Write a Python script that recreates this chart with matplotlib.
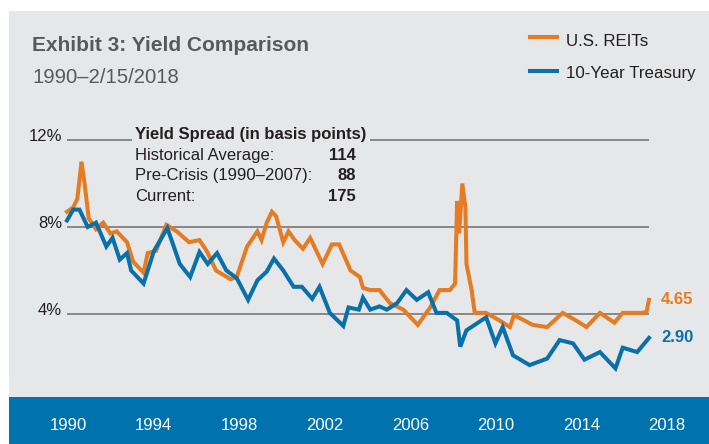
import matplotlib
matplotlib.use("Agg")
import matplotlib.pyplot as plt
from matplotlib.patches import Rectangle
from matplotlib.lines import Line2D
from matplotlib.transforms import offset_copy

# ---- data ----
reit_t = [1990.0, 1990.3, 1990.5, 1990.7, 1990.85, 1991.05, 1991.4, 1991.75, 1992.1, 1992.4,
          1992.9, 1993.2, 1993.7, 1993.9, 1994.3, 1994.8, 1995.3, 1995.9, 1996.4, 1996.75,
          1997.2, 1997.9, 1998.2, 1998.7, 1999.2, 1999.4, 1999.65, 1999.9, 2000.1, 2000.45,
          2000.7, 2001.0, 2001.4, 2001.75, 2002.35, 2002.8, 2003.15, 2003.7, 2004.15, 2004.3,
          2004.65, 2005.1, 2005.6, 2006.25, 2006.95, 2007.55, 2008.0, 2008.5, 2008.75, 2008.85,
          2008.95, 2009.1, 2009.25, 2009.3, 2009.55, 2009.7, 2010.25, 2010.9, 2011.4, 2011.6,
          2012.5, 2013.2, 2013.95, 2014.6, 2015.1, 2015.75, 2016.45, 2016.85, 2017.8, 2018.0,
          2018.12]
reit_y = [8.7, 8.9, 9.3, 11.0, 10.0, 8.4, 7.9, 8.2, 7.7, 7.8,
          7.3, 6.4, 5.9, 6.8, 6.9, 8.1, 7.8, 7.3, 7.4, 6.9,
          6.0, 5.6, 5.7, 7.1, 7.8, 7.4, 8.2, 8.7, 8.5, 7.3,
          7.8, 7.4, 7.0, 7.5, 6.3, 7.2, 7.2, 6.0, 5.7, 5.2,
          5.1, 5.1, 4.5, 4.2, 3.5, 4.3, 5.1, 5.1, 5.4, 9.2,
          7.7, 10.0, 8.9, 6.3, 5.1, 4.05, 4.05, 3.7, 3.4, 3.95,
          3.5, 3.4, 4.05, 3.7, 3.4, 4.05, 3.6, 4.05, 4.05, 4.1,
          4.65]

tsy_t = [1990.0, 1990.3, 1990.6, 1990.8, 1991.0, 1991.4, 1991.9, 1992.2, 1992.55, 1992.9,
         1993.1, 1993.7, 1994.2, 1994.85, 1995.45, 1995.95, 1996.4, 1996.8, 1997.25, 1997.7,
         1998.2, 1998.75, 1999.2, 1999.65, 2000.0, 2000.45, 2000.95, 2001.35, 2001.85, 2002.2,
         2002.7, 2003.35, 2003.6, 2004.1, 2004.3, 2004.65, 2005.1, 2005.45, 2005.95, 2006.4,
         2006.9, 2007.45, 2007.85, 2008.35, 2008.85, 2009.0, 2009.3, 2009.7, 2010.25, 2010.7,
         2011.05, 2011.55, 2012.35, 2013.2, 2013.8, 2014.45, 2015.0, 2015.75, 2016.5, 2016.85,
         2017.55, 2018.12]
tsy_y = [8.3, 8.8, 8.8, 8.4, 8.0, 8.2, 7.1, 7.5, 6.5, 6.8,
         6.0, 5.4, 6.9, 7.95, 6.3, 5.7, 6.85, 6.3, 6.8, 6.0,
         5.65, 4.65, 5.55, 5.95, 6.55, 6.0, 5.25, 5.25, 4.7, 5.25,
         4.05, 3.45, 4.3, 4.2, 4.75, 4.2, 4.35, 4.2, 4.5, 5.1,
         4.65, 5.0, 4.05, 4.05, 3.7, 2.5, 3.25, 3.5, 3.85, 2.65,
         3.4, 2.1, 1.65, 1.95, 2.8, 2.65, 1.9, 2.25, 1.5, 2.45,
         2.25, 2.90]

y_ticks = [4, 8, 12]
y_tick_labels = ["4%", "8%", "12%"]
years = [1990, 1994, 1998, 2002, 2006, 2010, 2014, 2018]

spread_rows = ["Historical Average:", "Pre-Crisis (1990\u20132007):", "Current:"]
spread_vals = ["114", "88", "175"]

# ---- style ----
plt.rcParams["font.family"] = ["Liberation Sans", "DejaVu Sans"]
ORANGE = "#e57b22"
BLUE = "#0a70aa"
BAND = "#0072ae"
PANEL = "#e6e7e8"
GRID = "#6d6e71"
TXT = "#231f20"
TITLE = "#58595b"
FS = 12.0

W, H = 709, 444
fig = plt.figure(figsize=(W / 100, H / 100), dpi=100)
fig.patch.set_facecolor("white")


def fx(px):
    return px / W


def fy(py):
    return 1 - py / H


# grey panel and blue year band
fig.add_artist(Rectangle((fx(9), 0), 1 - fx(9), fy(11), transform=fig.transFigure,
                         facecolor=PANEL, edgecolor="none", zorder=0))
band = fig.add_axes([fx(9), 0, 1 - fx(9), fy(397)])
band.set_xlim(1987.24, 2019.96)
band.set_ylim(0, 1)
band.axis("off")
band.add_patch(Rectangle((0, 0), 1, 1, transform=band.transAxes, facecolor=BAND,
                         edgecolor="none"))
for yr in years:
    band.text(yr, 0.30, str(yr), ha="center", va="baseline", color="white", fontsize=FS)

# main plot axes: y px = 401 - 21.75 * value, x 1990 -> 67px, 2018.12 -> 649px
y0, y1 = 0.2, 12.4
ax = fig.add_axes([fx(67), fy(401 - 21.75 * y0), fx(649) - fx(67),
                   (21.75 * (y1 - y0)) / H])
ax.set_facecolor("none")
ax.set_xlim(1990.0, 2018.12)
ax.set_ylim(y0, y1)
ax.axis("off")

for v in y_ticks:
    ax.axhline(v, color=GRID, lw=1.1, zorder=1)
lab_tr = offset_copy(ax.transData, fig=fig, x=-5, y=-1, units="dots")
for v, lab in zip(y_ticks, y_tick_labels):
    ax.text(1990.0, v, lab, transform=lab_tr, ha="right", va="baseline",
            fontsize=FS, color=TXT)

ax.plot(reit_t, reit_y, color=ORANGE, lw=2.9, zorder=3, clip_on=False,
        solid_joinstyle="miter")
ax.plot(tsy_t, tsy_y, color=BLUE, lw=2.9, zorder=4, clip_on=False,
        solid_joinstyle="miter")

ax.annotate(f"{reit_y[-1]:.2f}", xy=(reit_t[-1], reit_y[-1]), xytext=(12, 0),
            textcoords="offset pixels", va="center", ha="left", color=ORANGE,
            fontsize=FS, fontweight="bold", annotation_clip=False)
ax.annotate(f"{tsy_y[-1]:.2f}", xy=(tsy_t[-1], tsy_y[-1]), xytext=(12, 0),
            textcoords="offset pixels", va="center", ha="left", color=BLUE,
            fontsize=FS, fontweight="bold", annotation_clip=False)

# yield spread box (covers the 12% line)
fig.text(fx(135), fy(139), "Yield Spread (in basis points)", ha="left", va="baseline",
         fontsize=FS, fontweight="bold", color=TXT, zorder=5,
         bbox=dict(facecolor=PANEL, edgecolor="none", pad=2.5))
for i, (row, val) in enumerate(zip(spread_rows, spread_vals)):
    base = 159.5 + 20.8 * i
    fig.text(fx(135), fy(base), row, ha="left", va="baseline", fontsize=FS, color=TXT)
    fig.text(fx(356), fy(base), val, ha="right", va="baseline", fontsize=FS,
             fontweight="bold", color=TXT)

# title
fig.text(fx(32), fy(51), "Exhibit 3: Yield Comparison", ha="left", va="baseline",
         fontsize=15, fontweight="bold", color=TITLE)
fig.text(fx(32), fy(83), "1990\u20132/15/2018", ha="left", va="baseline",
         fontsize=14.6, color=TITLE)

# legend
for ly, tb, lab, col in [(37.3, 46, "U.S. REITs", ORANGE), (70.7, 78, "10-Year Treasury", BLUE)]:
    fig.add_artist(Line2D([fx(530), fx(557)], [fy(ly), fy(ly)], color=col, lw=2.9,
                          transform=fig.transFigure))
    fig.text(fx(566), fy(tb), lab, ha="left", va="baseline", fontsize=12.2, color=TXT)

fig.savefig("out.png", dpi=100, facecolor=fig.get_facecolor())
